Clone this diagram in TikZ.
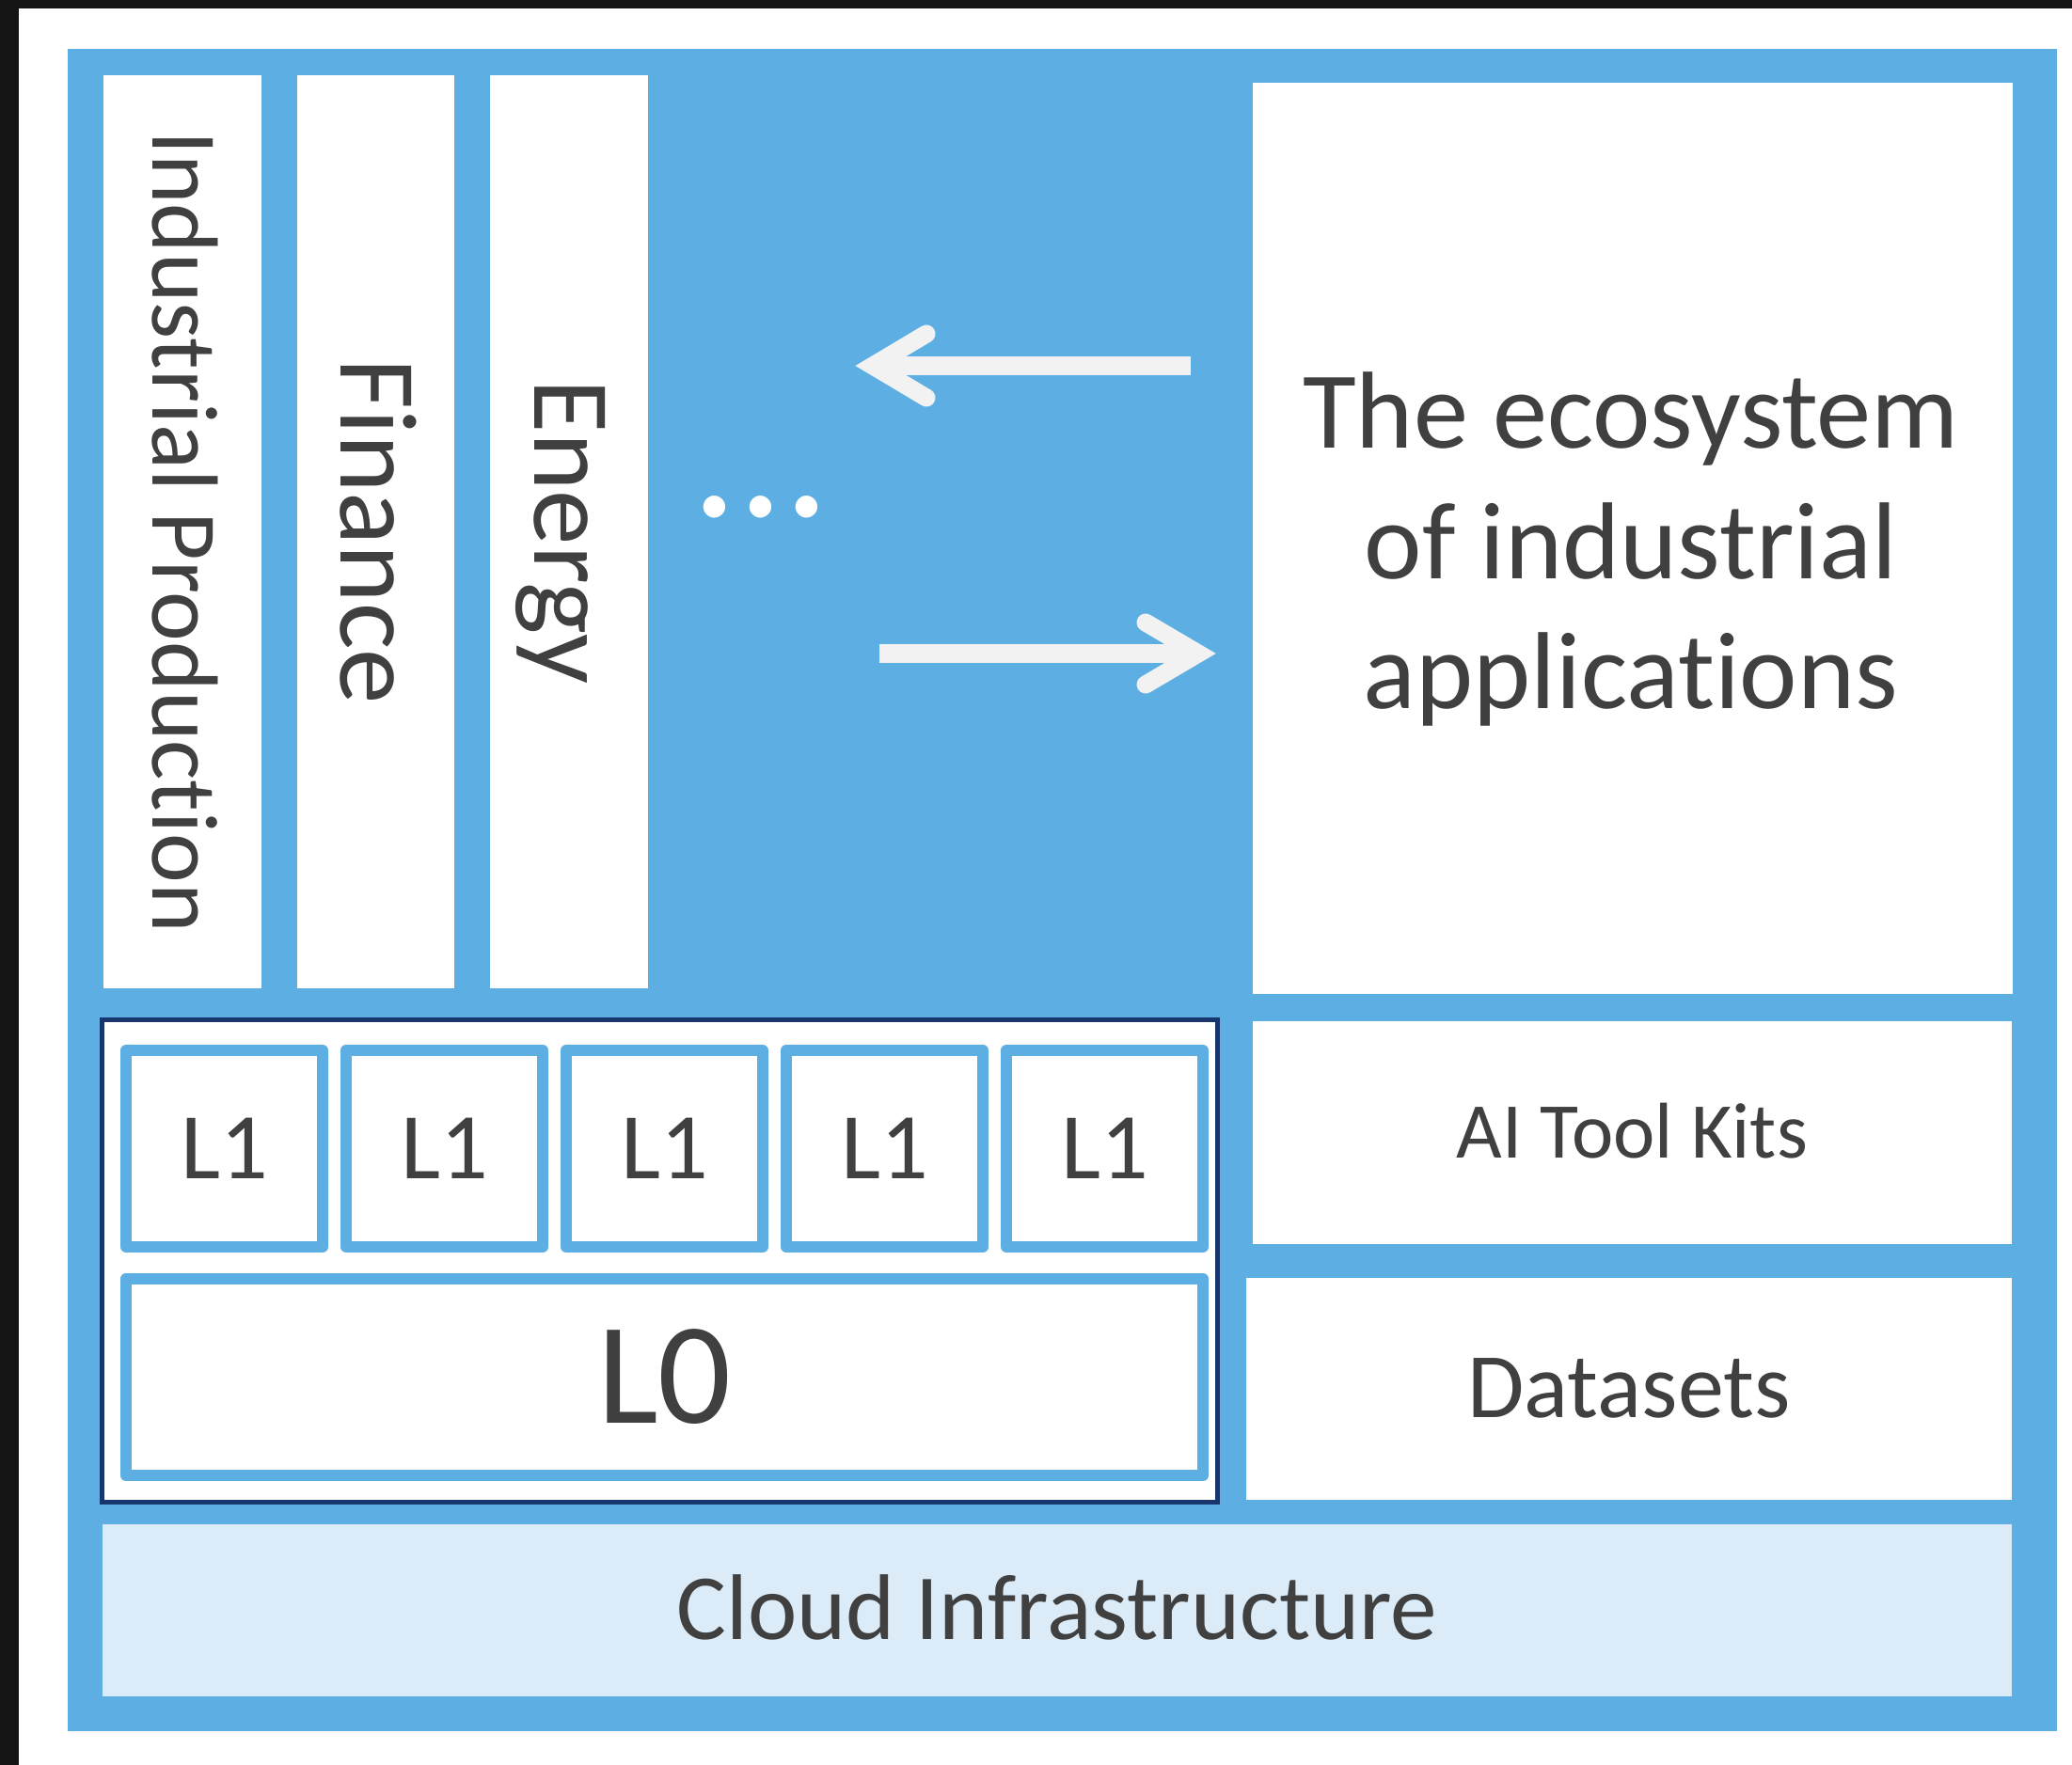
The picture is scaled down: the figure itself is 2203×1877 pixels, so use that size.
\documentclass[tikz,border=0pt]{standalone}
\usepackage{fontspec}
\setmainfont{Carlito}[Ligatures={NoCommon}]
\usetikzlibrary{calc}
\definecolor{frameblue}{RGB}{93,175,227}
\definecolor{cloudblue}{RGB}{219,236,248}
\definecolor{navyline}{RGB}{23,54,110}
\definecolor{txt}{RGB}{64,64,64}
\definecolor{darkbg}{RGB}{20,20,20}
\definecolor{arrowgray}{RGB}{242,242,242}
\begin{document}
\begin{tikzpicture}[x=0.01cm,y=-0.01cm,
  panel/.style={fill=white, draw=none, inner sep=0pt, text=txt, text depth=0pt},
  lbox/.style={draw=frameblue, line width=3.56pt, line join=round, fill=white,
    inner sep=0pt, text=txt, text depth=0pt, minimum width=2.085cm,
    minimum height=2.085cm, text height=0.632cm, font=\fontsize{28.45}{34}\selectfont},
  shaftline/.style={draw=arrowgray, line width=5.41pt, line cap=butt},
  tiphead/.style={draw=arrowgray, line width=5.41pt, line cap=round, line join=miter},
]
\useasboundingbox (0,0) rectangle (2203,1877);
\fill[white] (0,0) rectangle (2203,1877);
\fill[darkbg] (0,0) rectangle (2203,9);
\fill[darkbg] (0,0) rectangle (20,1877);
\fill[frameblue] (72,52) rectangle (2187,1841);

% vertical application panels
\node[panel, rotate=-90, minimum width=9.71cm, minimum height=1.68cm,
  text height=0.632cm, font=\fontsize{28.45}{34}\selectfont] (ind) at (194,565.5) {Industrial Production};
\node[panel, rotate=-90, minimum width=9.71cm, minimum height=1.67cm,
  text height=0.739cm, font=\fontsize{33.3}{40}\selectfont] (fin) at (399.5,565.5) {Finance};
\node[panel, rotate=-90, minimum width=9.71cm, minimum height=1.68cm,
  text height=0.739cm, font=\fontsize{33.3}{40}\selectfont] (ene) at (605,565.5) {Energy};

\node[text=white, inner sep=0pt, anchor=base, font=\fontsize{55.2}{60}\selectfont] (dots) at (809,550) {...};

% ecosystem panel
\node[panel, minimum width=8.08cm, minimum height=9.69cm] (eco) at (1736,572.5) {};
\node[text=txt, align=center, inner sep=0pt, font=\fontsize{33.1}{39.5}\selectfont] (ecotxt) at (1734,584)
  {The ecosystem\\of industrial\\applications};

% arrows
\coordinate (la-s) at (1266,389);
\coordinate (la-t) at (928,389);
\draw[shaftline] (la-s) -- (la-t);
\draw[tiphead] ($(la-t)+(57,-34)$) -- (la-t) -- ($(la-t)+(57,34)$);
\coordinate (ra-s) at (935,695);
\coordinate (ra-t) at (1274,695);
\draw[shaftline] (ra-s) -- (ra-t);
\draw[tiphead] ($(ra-t)+(-56,-33)$) -- (ra-t) -- ($(ra-t)+(-56,33)$);

% right column
\node[panel, minimum width=8.07cm, minimum height=2.37cm, text height=0.531cm,
  font=\fontsize{23.9}{29}\selectfont] (ai) at (1735.5,1204.5) {AI Tool Kits};
\node[panel, minimum width=8.14cm, minimum height=2.36cm, text height=0.619cm,
  font=\fontsize{27.9}{33}\selectfont] (data) at (1732,1477) {Datasets};

% model block
\node[draw=navyline, line width=1.42pt, fill=white, minimum width=11.86cm,
  minimum height=5.13cm, inner sep=0pt] (models) at (701.5,1341) {};
\foreach \i in {0,...,4}
  \node[lbox] (Lone-\i) at (238.5+234*\i,1221.5) {L1};
\node[lbox, minimum width=11.445cm, text height=0.973cm,
  font=\fontsize{43.8}{52}\selectfont] (Lzero) at (706.5,1464.5) {L0};

% cloud
\node[panel, fill=cloudblue, minimum width=20.28cm, minimum height=1.83cm,
  text height=0.626cm, font=\fontsize{28.2}{34}\selectfont] (cloud) at (1124,1712.5) {Cloud Infrastructure};
\end{tikzpicture}
\end{document}
